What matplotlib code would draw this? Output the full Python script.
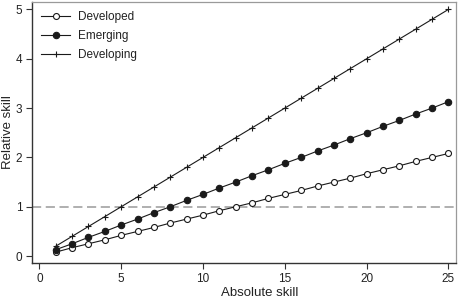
import matplotlib
matplotlib.use("Agg")
import matplotlib.pyplot as plt

plt.rcParams['font.family'] = ['Liberation Sans', 'DejaVu Sans']

absolute_skill = list(range(1, 26))
developed = [0.08, 0.17, 0.25, 0.33, 0.42, 0.50, 0.58, 0.67, 0.75, 0.83, 0.92, 1.00, 1.08,
             1.17, 1.25, 1.33, 1.42, 1.50, 1.58, 1.67, 1.75, 1.83, 1.92, 2.00, 2.08]
emerging = [0.13, 0.25, 0.38, 0.50, 0.63, 0.75, 0.88, 1.00, 1.13, 1.25, 1.38, 1.50, 1.63,
            1.75, 1.88, 2.00, 2.13, 2.25, 2.38, 2.50, 2.63, 2.75, 2.88, 3.00, 3.13]
developing = [0.2, 0.4, 0.6, 0.8, 1.0, 1.2, 1.4, 1.6, 1.8, 2.0, 2.2, 2.4, 2.6,
              2.8, 3.0, 3.2, 3.4, 3.6, 3.8, 4.0, 4.2, 4.4, 4.6, 4.8, 5.0]
x_ticks = [0, 5, 10, 15, 20, 25]
y_ticks = [0, 1, 2, 3, 4, 5]
reference_level = 1

W, H = 458, 302
fig = plt.figure(figsize=(W / 100, H / 100), dpi=100)
ax = fig.add_axes([32 / W, 1 - 263 / H, (456 - 32) / W, (263 - 2) / H])

lc = '#1a1a1a'
ax.axhline(reference_level, color='#9a9a9a', lw=1.1, ls=(0, (6, 3)), zorder=1)
ax.plot(absolute_skill, developed, color=lc, lw=0.8, marker='o', ms=4.3,
        mfc='white', mec=lc, mew=0.8, label='Developed', zorder=3)
ax.plot(absolute_skill, emerging, color=lc, lw=0.8, marker='o', ms=4.6,
        mfc=lc, mec=lc, mew=0.8, label='Emerging', zorder=3)
ax.plot(absolute_skill, developing, color=lc, lw=0.8, marker='+', ms=4.5,
        mec=lc, mew=0.8, label='Developing', zorder=3)

ax.set_xlim(-0.45, 25.46)
ax.set_ylim(-0.14, 5.15)
ax.set_xticks(x_ticks)
ax.set_yticks(y_ticks)
ax.tick_params(labelsize=8.5, length=4, width=0.8, colors='#333333', labelcolor='#222222', pad=3)

for s in ['left', 'bottom']:
    ax.spines[s].set_color('#333333')
    ax.spines[s].set_linewidth(1.0)
for s in ['top', 'right']:
    ax.spines[s].set_color('#9a9a9a')
    ax.spines[s].set_linewidth(0.9)

fig.text(260 / W, 1 - 292.5 / H, 'Absolute skill', fontsize=9.5,
         color='#222222', ha='center', va='center')
fig.text(8 / W, 1 - 132 / H, 'Relative skill', rotation=90, fontsize=9.5,
         color='#222222', ha='center', va='center')

leg = ax.legend(loc='upper left', frameon=False, fontsize=8.5, handlelength=2.5,
                handletextpad=0.6, labelspacing=0.6, borderaxespad=0.0,
                bbox_to_anchor=(0.01, 0.985))
for t in leg.get_texts():
    t.set_color('#222222')

fig.savefig('out.png', dpi=100)
